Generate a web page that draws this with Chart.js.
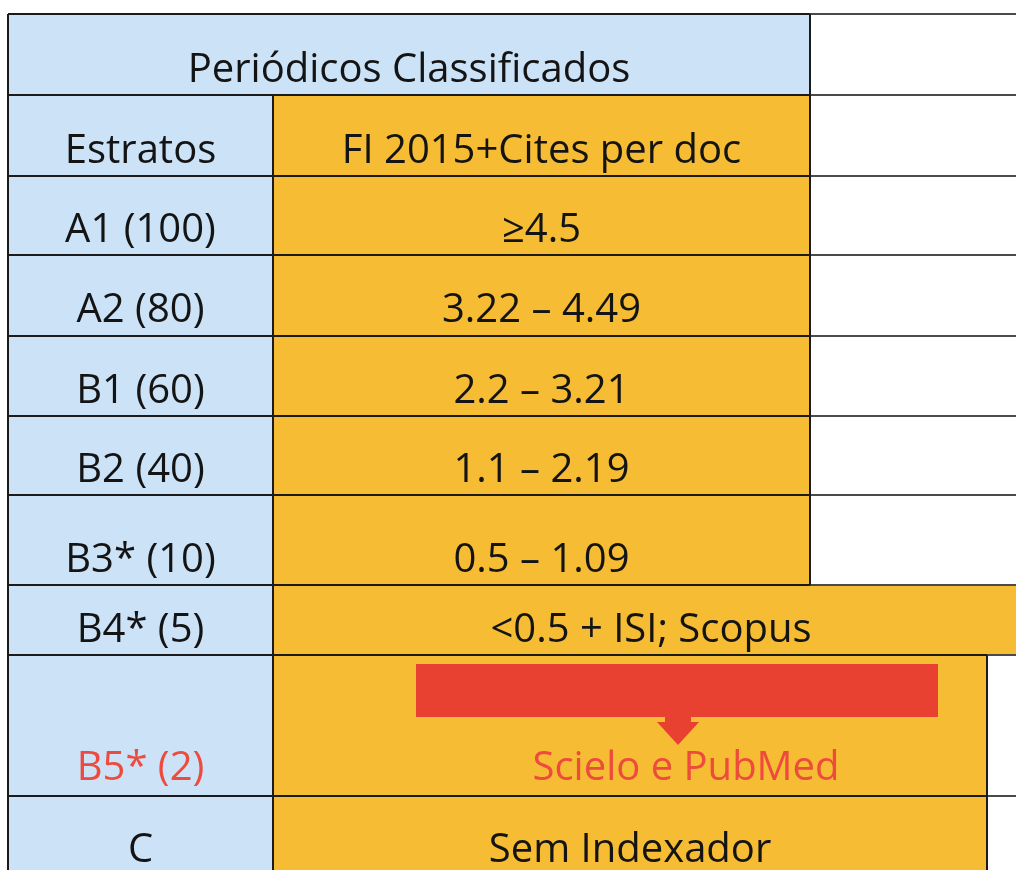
<!DOCTYPE html>
<html>
<head>
<meta charset="utf-8">
<script src="https://cdn.jsdelivr.net/npm/chart.js@4.4.0/dist/chart.umd.min.js"></script>
<style>
  html, body { margin: 0; padding: 0; background: #fff; }
  #tabela { display: block; }
</style>
</head>
<body>
<canvas id="tabela" width="1016" height="870"></canvas>
<script>
// conteudo da tabela
titulo    = 'Periódicos Classificados'
cabecalho = ['Estratos', 'FI 2015+Cites per doc']
estratos  = ['A1 (100)', 'A2 (80)', 'B1 (60)', 'B2 (40)', 'B3* (10)', 'B4* (5)', 'B5* (2)', 'C']
criterios = ['≥4.5', '3.22 – 4.49', '2.2 – 3.21', '1.1 – 2.19', '0.5 – 1.09', '<0.5 + ISI; Scopus', 'Scielo e PubMed', 'Sem Indexador']
destaque  = ['B5* (2)', 'Scielo e PubMed']

// layout (unidades das escalas)
colX   = [8, 273, 810, 1016]
rowY   = [14, 95, 176, 255, 336, 416, 495, 585, 655, 796, 950]
base   = [82, 163, 242, 322, 403, 482, 572, 642, 780, 862]   // linha de base do texto
colB4  = 1029   // celula mesclada de B4 passa da borda
colB5  = 987    // coluna laranja mais larga nas ultimas linhas

AZUL    = '#cce2f7'
LARANJA = '#f6bc33'
VERMELHO= '#e84132'
TXTVERM = '#ee4b3f'
FONTE   = '40px "Open Sans"'

tablePlugin = {
    id: 'tabela',
    afterDraw(chart) {
        const c = chart.ctx, x = chart.scales.x, y = chart.scales.y
        const px = v => x.getPixelForValue(v), py = v => y.getPixelForValue(v)

        function cell(x0, x1, r0, r1, fill) {
            c.fillStyle = fill
            c.fillRect(px(x0), py(rowY[r0]), px(x1) - px(x0), py(rowY[r1]) - py(rowY[r0]))
        }
        function text(t, cx, r, color) {
            c.fillStyle = color || '#141414'
            c.font = FONTE
            c.textAlign = 'center'
            c.textBaseline = 'alphabetic'
            c.fillText(t, px(cx), py(base[r]))
        }
        function hline(x0, x1, v, color) {
            c.strokeStyle = color; c.lineWidth = 2
            c.beginPath(); c.moveTo(px(x0), py(v)); c.lineTo(px(x1), py(v)); c.stroke()
        }
        function vline(xv, v0, v1, color) {
            c.strokeStyle = color; c.lineWidth = 2
            c.beginPath(); c.moveTo(px(xv), py(v0)); c.lineTo(px(xv), py(v1)); c.stroke()
        }

        c.save()
        // fundos
        cell(colX[0], colX[2], 0, 1, AZUL)
        for (let r = 1; r < rowY.length - 1; r++) cell(colX[0], colX[1], r, r + 1, AZUL)
        for (let r = 1; r <= 6; r++) cell(colX[1], colX[2], r, r + 1, LARANJA)
        cell(colX[1], colB4, 7, 8, LARANJA)
        cell(colX[1], colB5, 8, 10, LARANJA)

        // seta vermelha (B5)
        c.fillStyle = VERMELHO
        c.fillRect(px(416), py(664), px(938) - px(416), py(717) - py(664))
        c.beginPath()
        ;[[665,717],[691,717],[691,722],[699,722],[678,745],[657,722],[665,722]].forEach((p, i) => {
            i ? c.lineTo(px(p[0]), py(p[1])) : c.moveTo(px(p[0]), py(p[1]))
        })
        c.closePath(); c.fill()

        // linhas
        const grade = '#1b1b1b', clara = '#4a4a4a'
        for (let r = 0; r < rowY.length - 1; r++) {
            const fim = r <= 7 ? colX[2] : colB5
            hline(colX[0], r <= 6 ? colX[2] : colX[3], rowY[r], grade)
            hline(fim, colX[3], rowY[r], clara)
        }
        vline(colX[0], rowY[0], rowY[10], grade)
        vline(colX[1], rowY[1], rowY[10], grade)
        vline(colX[2], rowY[0], rowY[7], grade)
        vline(colB5, rowY[8], rowY[10], grade)

        // textos
        text(titulo, (colX[0] + colX[2]) / 2, 0)
        text(cabecalho[0], (colX[0] + colX[1]) / 2, 1)
        text(cabecalho[1], (colX[1] + colX[2]) / 2, 1)
        estratos.forEach((e, i) => text(e, (colX[0] + colX[1]) / 2, i + 2, destaque.includes(e) ? TXTVERM : null))
        criterios.forEach((t, i) => {
            let cx = (colX[1] + colX[2]) / 2
            if (i == 5) cx = (colX[1] + colB4) / 2
            if (i == 6) cx = 686
            if (i == 7) cx = (colX[1] + colB5) / 2
            text(t, cx, i + 2, destaque.includes(t) ? TXTVERM : null)
        })
        c.restore()
    }
}

new Chart(document.getElementById('tabela').getContext('2d'), {
    type: 'scatter',
    data: { datasets: [{ data: [] }] },
    options: {
        responsive: false,
        animation: false,
        layout: { padding: 0 },
        plugins: { legend: { display: false }, tooltip: { enabled: false } },
        scales: {
            x: { type: 'linear', min: 0, max: 1016, display: false },
            y: { type: 'linear', min: 0, max: 870, reverse: true, display: false }
        }
    },
    plugins: [tablePlugin]
})
</script>
</body>
</html>
